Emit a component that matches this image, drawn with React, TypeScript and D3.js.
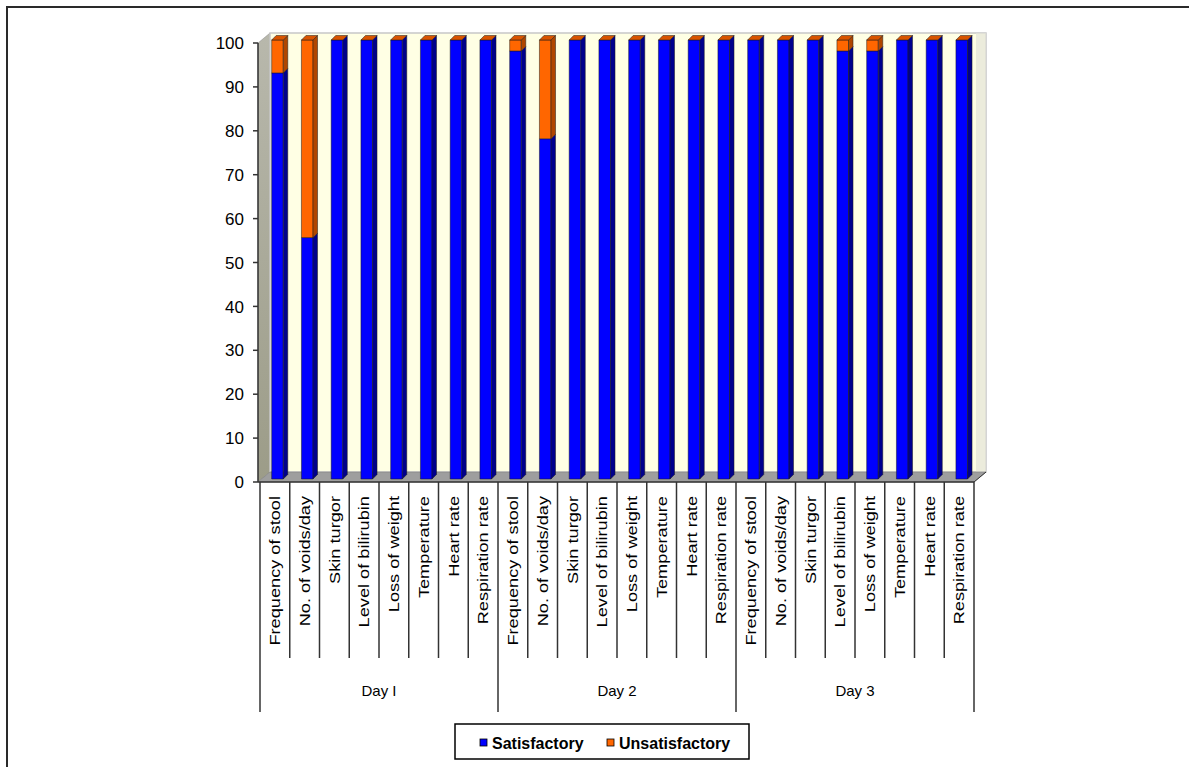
import React from 'react';
import * as d3 from 'd3';

// categories repeated for each day
const measures = [
  "Frequency of stool",
  "No. of voids/day",
  "Skin turgor",
  "Level of bilirubin",
  "Loss of weight",
  "Temperature",
  "Heart rate",
  "Respiration rate"
];
const days = ["Day I", "Day 2", "Day 3"];

const satisfactory = [
  92.5, 55, 100, 100, 100, 100, 100, 100,
  97.5, 77.5, 100, 100, 100, 100, 100, 100,
  100, 100, 100, 97.5, 97.5, 100, 100, 100
];
const unsatisfactory = [
  7.5, 45, 0, 0, 0, 0, 0, 0,
  2.5, 22.5, 0, 0, 0, 0, 0, 0,
  0, 0, 0, 2.5, 2.5, 0, 0, 0
];
const yTicks = [0, 10, 20, 30, 40, 50, 60, 70, 80, 90, 100];

const series = [
  { name: "Satisfactory", values: satisfactory, front: "#0000FF", side: "#00008C", top: "#0000B0" },
  { name: "Unsatisfactory", values: unsatisfactory, front: "#FF6600", side: "#B04600", top: "#D85400" }
];

const W = 1189;
const H = 767;

export default function App() {
  const labels = days.flatMap(() => measures);
  const idx = labels.map((_, i) => i);

  const x = d3.scaleBand<number>().domain(idx).range([260, 974]).padding(0);
  const y = d3.scaleLinear().domain([0, 100]).range([482, 43]);

  // 3d depth of walls
  const wdx = 12, wdy = 10;
  // bar placement inside depth
  const ox = 3, oy = -3, bd = 4.5, bw = 11.6;

  const stack = d3.stack<number>()
    .keys(series.map((_, k) => String(k)))
    .value((i, key) => series[+key].values[i]);
  const stacked = stack(idx);

  const y0 = y(0), y100 = y(100);
  const axisX = 258;
  const right = x.range()[1];

  return (
    <svg width={W} height={H} style={{ position: 'absolute', left: 0, top: 0, background: '#fff' }}
      fontFamily="Arial, 'Liberation Sans', sans-serif">
      <defs>
        <linearGradient id="sideWall" x1="0" y1="0" x2="0" y2="1">
          <stop offset="0" stopColor="#B8B8AC" />
          <stop offset="1" stopColor="#9C9C88" />
        </linearGradient>
      </defs>
      {/* outer frame */}
      <rect x={7} y={7} width={1300} height={900} fill="none" stroke="#2a2a2a" strokeWidth={2} />

      {/* walls */}
      <polygon points={`${axisX},${y0} ${axisX},${y100} ${axisX + wdx},${y100 - wdy} ${axisX + wdx},${y0 - wdy}`}
        fill="url(#sideWall)" stroke="#888" strokeWidth={0.5} />
      <rect x={axisX + wdx} y={y100 - wdy} width={right - axisX} height={y0 - y100}
        fill="#FFFFE4" stroke="#C8C8C8" strokeWidth={1.5} />
      <rect x={right + wdx - 10} y={y100 - wdy} width={10} height={y0 - y100} fill="#E4E4D8" opacity={0.7} />
      <polygon points={`${axisX},${y0} ${right},${y0} ${right + wdx},${y0 - wdy} ${axisX + wdx},${y0 - wdy}`}
        fill="#9E9E9E" stroke="#777" strokeWidth={0.5} />

      {/* bars */}
      {idx.map(i => {
        const c = (x(i) ?? 0) + x.bandwidth() / 2;
        const x0 = c - 3.2;
        const topSeg = stacked[stacked.length - 1][i];
        const yTop = y(topSeg[1]) + oy;
        return (
          <g key={i} stroke="#1a1a1a" strokeWidth={0.5} strokeLinejoin="round">
            {stacked.map((layer, k) => {
              const seg = layer[i];
              if (seg[1] - seg[0] <= 0) return null;
              const yt = y(seg[1]) + oy;
              const yb = y(seg[0]) + oy;
              const s = series[k];
              return (
                <g key={k}>
                  <rect x={x0} y={yt} width={bw} height={yb - yt} fill={s.front} />
                  <polygon points={`${x0 + bw},${yt} ${x0 + bw + bd},${yt - bd} ${x0 + bw + bd},${yb - bd} ${x0 + bw},${yb}`}
                    fill={s.side} />
                </g>
              );
            })}
            <polygon points={`${x0},${yTop} ${x0 + bd},${yTop - bd} ${x0 + bw + bd},${yTop - bd} ${x0 + bw},${yTop}`}
              fill={series[series.length - 1].top} />
          </g>
        );
      })}

      {/* y axis */}
      <line x1={axisX} x2={axisX} y1={y100} y2={y0} stroke="#333" strokeWidth={1.5} />
      {yTicks.map(t => (
        <g key={t}>
          <line x1={axisX - 5} x2={axisX} y1={y(t)} y2={y(t)} stroke="#333" strokeWidth={1.5} />
          <text x={244} y={y(t)} dy="0.36em" textAnchor="end" fontSize={17} fill="#000">{t}</text>
        </g>
      ))}

      {/* x axis */}
      <line x1={axisX} x2={right} y1={y0} y2={y0} stroke="#333" strokeWidth={1.5} />
      <line x1={right} x2={right + wdx} y1={y0} y2={y0 - wdy} stroke="#333" strokeWidth={1} />
      {d3.range(labels.length + 1).map(i => {
        const xx = i < labels.length ? (x(i) ?? 0) : right;
        const isGroup = i % measures.length === 0;
        return <line key={i} x1={xx} x2={xx} y1={y0} y2={isGroup ? 712 : 658} stroke="#333" strokeWidth={1.5} />;
      })}
      {labels.map((lab, i) => {
        const c = (x(i) ?? 0) + x.bandwidth() / 2;
        return (
          <text key={i} transform={`translate(${c},496) rotate(-90) scale(1.3,1)`} textAnchor="end"
            dominantBaseline="central" fontSize={14} fill="#000">{lab}</text>
        );
      })}
      {days.map((d, g) => {
        const a = x(g * measures.length) ?? 0;
        const b = g === days.length - 1 ? right : (x((g + 1) * measures.length) ?? 0);
        return <text key={d} x={(a + b) / 2} y={696} textAnchor="middle" fontSize={15} fill="#000">{d}</text>;
      })}

      {/* legend */}
      <rect x={455} y={724} width={294} height={35} fill="#fff" stroke="#000" strokeWidth={1.5} />
      {series.map((s, k) => {
        const lx = k === 0 ? 480 : 607;
        return (
          <g key={s.name}>
            <rect x={lx} y={739} width={7} height={7} fill={s.front} stroke="#000" strokeWidth={0.8} />
            <text x={lx + 12} y={749} fontSize={16} fontWeight="bold" fill="#000">{s.name}</text>
          </g>
        );
      })}
    </svg>
  );
}
